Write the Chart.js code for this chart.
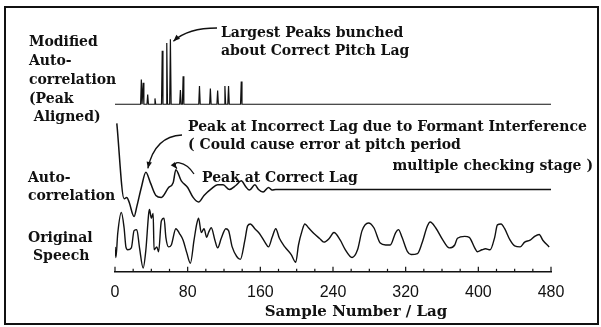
<!DOCTYPE html>
<html>
<head>
<meta charset="utf-8">
<title>Pitch lag autocorrelation</title>
<script src="https://cdn.jsdelivr.net/npm/chart.js@4.4.1/dist/chart.umd.min.js"></script>
<style>
  html, body { margin: 0; padding: 0; background: #fff; }
  canvas { display: block; }
</style>
</head>
<body>
<canvas id="fig" width="601" height="327" style="width:601px;height:327px"></canvas>
<script>
// x axis (sample number / lag)
var lagTicks = [0, 80, 160, 240, 320, 400, 480];

// modified autocorrelation (peak aligned): spike lags and relative heights
var peakLags    = [29, 31, 36, 44, 52, 57, 61, 72, 75, 93, 105, 113, 121, 125, 139];
var peakHeights = [0.38, 0.33, 0.15, 0.09, 0.82, 0.94, 1.0, 0.22, 0.43, 0.28, 0.24, 0.21, 0.28, 0.28, 0.35];

// autocorrelation (normalised)
var acLags   = [2, 10, 13, 15.5, 21, 24, 29, 34, 39, 45, 51, 59, 64, 67, 73, 80, 86, 92, 98, 106,
                113, 119, 126, 133, 139, 144, 148, 154, 158, 163, 169, 173, 177, 480];
var acValues = [1.0, -0.14, -0.12, -0.19, -0.41, -0.26, 0.03, 0.26, 0.10, -0.09, -0.12, 0.03, 0.10, 0.30, 0.13, 0.03, -0.12, -0.19, -0.09, 0.01,
                0.07, 0.07, 0, 0.06, 0.13, 0.04, -0.01, 0.07, 0, -0.04, 0.03, -0.01, 0, 0];

// original speech (arbitrary amplitude)
var speechLags = [0, 1, 3, 7, 10, 12, 14, 18, 21, 24, 27, 31, 34, 37, 38, 40, 42, 43, 46, 48,
                  51, 54, 56, 59, 62, 67, 71, 75, 79, 83, 87, 90, 92, 95, 98, 101, 103, 106, 110, 113,
                  117, 122, 125, 129, 134, 138, 143, 146, 149, 154, 159, 165, 169, 173, 177, 181, 187, 194, 199, 202,
                  206, 209, 213, 219, 225, 230, 236, 241, 248, 253, 261, 267, 272, 279, 285, 292, 298, 303, 309, 312,
                  316, 322, 326, 333, 338, 344, 347, 353, 361, 368, 374, 377, 385, 390, 396, 399, 404, 408, 413, 418,
                  421, 425, 429, 435, 440, 446, 451, 457, 462, 467, 471, 478];
var speechValues = [-7, -18, 7, 29, 13, -7, -10, -8, 10, 11, -8, -29, -10, 27, 32, 23, 28, -10, -7, -12,
                    20, 23, 3, -7, -5, 12, 7, 0, -13, -24, 0, 17, 23, 8, 12, 3, 8, 13, 0, -8,
                    2, 12, 10, -7, -17, -20, 0, 15, 17, 12, 7, -2, -7, 3, 12, 2, -7, -15, -23, -5,
                    10, 17, 13, 7, 2, -2, 2, 8, 0, -9, -18, -10, 10, 18, 13, -3, -5, -5, 8, 11,
                    3, -12, -15, -14, -3, 15, 19, 13, 0, -8, -5, 2, 4, 3, -8, -12, -10, -9, -10, 3,
                    16, 17, 12, 0, -6, -7, -2, 0, 4, 6, 0, -7];

// vertical placement of the three traces on one hidden y scale
var Y_MAX = 263;
var MOD_BASE = 175, MOD_SCALE = 68;
var AC_BASE = 86, AC_SCALE = 69;
var SP_BASE = 33;

var ink = '#111';

var spikePts = [{x: 0, y: MOD_BASE}];
peakLags.forEach(function(lag, i) {
    spikePts.push({x: lag - 0.8, y: MOD_BASE});
    spikePts.push({x: lag, y: MOD_BASE + MOD_SCALE * peakHeights[i]});
    spikePts.push({x: lag + 0.8, y: MOD_BASE});
});
spikePts.push({x: 480, y: MOD_BASE});

var acPts = acLags.map(function(l, i) { return {x: l, y: AC_BASE + AC_SCALE * acValues[i]}; });
var spPts = speechLags.map(function(l, i) { return {x: l, y: SP_BASE + speechValues[i]}; });

var serif = '"DejaVu Serif", "Liberation Serif", serif';

var sideLabels = [
    ['Modified', 29, 42], ['Auto-', 29, 61], ['correlation', 29, 80], ['(Peak', 29, 99], [' Aligned)', 29, 117],
    ['Auto-', 28, 178], ['correlation', 28, 196],
    ['Original', 28, 238], ['Speech', 33, 256]
];
var notes = [
    ['Largest Peaks bunched', 221, 33, 'left'],
    ['about Correct Pitch Lag', 221, 51, 'left'],
    ['Peak at Incorrect Lag due to Formant Interference', 188, 127, 'left'],
    ['( Could cause error at pitch period', 188, 145, 'left'],
    ['multiple checking stage )', 593, 166, 'right'],
    ['Peak at Correct Lag', 202, 178, 'left']
];

function arrow(ctx, pts) {
    ctx.beginPath();
    ctx.moveTo(pts[0][0], pts[0][1]);
    if (pts.length === 3) {
        ctx.quadraticCurveTo(pts[1][0], pts[1][1], pts[2][0], pts[2][1]);
    } else {
        ctx.bezierCurveTo(pts[1][0], pts[1][1], pts[2][0], pts[2][1], pts[3][0], pts[3][1]);
    }
    ctx.stroke();
    var a = pts[pts.length - 1], b = pts[pts.length - 2];
    var ang = Math.atan2(a[1] - b[1], a[0] - b[0]);
    ctx.beginPath();
    ctx.moveTo(a[0], a[1]);
    ctx.lineTo(a[0] - 7 * Math.cos(ang - 0.4), a[1] - 7 * Math.sin(ang - 0.4));
    ctx.lineTo(a[0] - 7 * Math.cos(ang + 0.4), a[1] - 7 * Math.sin(ang + 0.4));
    ctx.closePath();
    ctx.fill();
}

var figurePlugin = {
    id: 'figure',
    beforeDraw: function(chart) {
        var ctx = chart.ctx;
        ctx.save();
        ctx.fillStyle = '#fff';
        ctx.fillRect(0, 0, chart.width, chart.height);
        ctx.restore();
    },
    afterDraw: function(chart) {
        var ctx = chart.ctx, xs = chart.scales.x, ys = chart.scales.y;
        var bottom = chart.chartArea.bottom;
        ctx.save();
        ctx.strokeStyle = ink;
        ctx.fillStyle = ink;

        // tick marks point up into the plot
        ctx.lineWidth = 1.2;
        xs.ticks.forEach(function(t) {
            var px = xs.getPixelForValue(t.value);
            var len = (t.value % 80 === 0) ? 5 : 3;
            ctx.beginPath();
            ctx.moveTo(px, bottom);
            ctx.lineTo(px, bottom - len);
            ctx.stroke();
        });

        // frame
        ctx.lineWidth = 2;
        ctx.strokeRect(5, 7, 593, 317);

        // text
        ctx.font = 'bold 14px ' + serif;
        ctx.textBaseline = 'middle';
        ctx.textAlign = 'left';
        sideLabels.forEach(function(s) { ctx.fillText(s[0], s[1], s[2]); });
        notes.forEach(function(n) {
            ctx.textAlign = n[3];
            ctx.fillText(n[0], n[1], n[2]);
        });
        ctx.textAlign = 'center';
        ctx.font = 'bold 15px ' + serif;
        ctx.fillText('Sample Number / Lag', 356, 312);

        // arrows, tips anchored on the data
        ctx.lineWidth = 1.3;
        var t1x = xs.getPixelForValue(61) + 3, t1y = ys.getPixelForValue(MOD_BASE + MOD_SCALE) + 2;
        arrow(ctx, [[217, 28], [188, 28], [t1x, t1y]]);
        var t2x = xs.getPixelForValue(34) + 2, t2y = ys.getPixelForValue(AC_BASE + AC_SCALE * 0.26) - 4;
        arrow(ctx, [[182, 135], [155, 136], [t2x, t2y]]);
        var t3x = xs.getPixelForValue(67) + 1, t3y = ys.getPixelForValue(AC_BASE + AC_SCALE * 0.30) - 1;
        arrow(ctx, [[194, 174], [185, 160], [170, 160], [t3x, t3y]]);
        ctx.restore();
    }
};

var chart = new Chart(document.getElementById('fig').getContext('2d'), {
    type: 'line',
    data: {
        datasets: [
            { label: 'Modified Autocorrelation', data: spikePts, borderColor: ink, borderWidth: 1.2, tension: 0 },
            { label: 'Autocorrelation', data: acPts, borderColor: ink, borderWidth: 1.5, cubicInterpolationMode: 'monotone' },
            { label: 'Original Speech', data: spPts, borderColor: ink, borderWidth: 1.4, cubicInterpolationMode: 'monotone' }
        ]
    },
    options: {
        responsive: false,
        animation: false,
        layout: { padding: { left: 115, right: 50, top: 20, bottom: 22 } },
        elements: { point: { radius: 0 } },
        plugins: { legend: { display: false }, tooltip: { enabled: false } },
        scales: {
            x: {
                type: 'linear',
                min: lagTicks[0],
                max: lagTicks[lagTicks.length - 1],
                grid: { display: false },
                border: { display: true, color: ink, width: 1.5 },
                ticks: {
                    stepSize: 20,
                    autoSkip: false,
                    maxRotation: 0,
                    padding: 3,
                    color: ink,
                    font: { family: '"Liberation Sans", Arial, sans-serif', size: 16 },
                    callback: function(v) { return lagTicks.indexOf(v) >= 0 ? String(v) : ''; }
                }
            },
            y: { display: false, min: 0, max: Y_MAX }
        }
    },
    plugins: [figurePlugin]
});
</script>
</body>
</html>
